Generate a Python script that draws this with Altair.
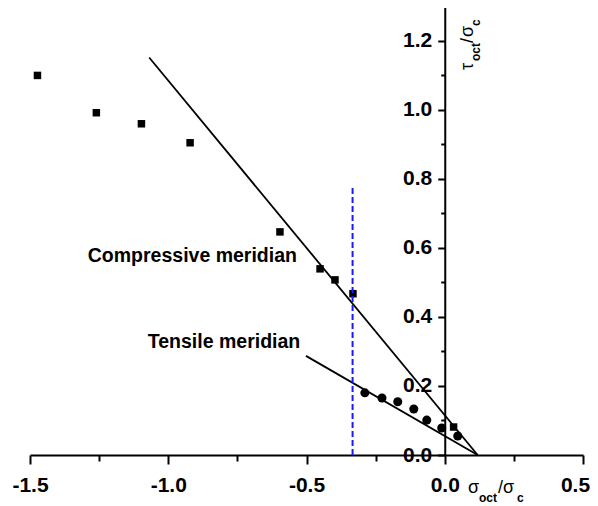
import altair as alt
import pandas as pd

# ---- data ----
# compressive meridian test points (squares)
comp_x = [-1.473, -1.26, -1.097, -0.921, -0.596, -0.451, -0.397, -0.332, 0.032]
comp_y = [1.099, 0.991, 0.959, 0.904, 0.646, 0.539, 0.507, 0.467, 0.081]
# tensile meridian test points (circles)
tens_x = [-0.289, -0.227, -0.170, -0.112, -0.065, -0.011, 0.047]
tens_y = [0.180, 0.165, 0.154, 0.133, 0.101, 0.078, 0.055]
# fitted meridian lines (end points)
line_series = ["Compressive", "Compressive", "Tensile", "Tensile"]
line_x = [-1.069, 0.119, -0.502, 0.119]
line_y = [1.151, 0.0, 0.287, 0.0]
# blue dashed reference line
ref_x = [-1 / 3]
ref_y = [0.0]
ref_y2 = [0.78]
# annotations
ann_text = ["Compressive meridian", "Tensile meridian"]
ann_x = [-1.291, -1.074]
ann_y = [0.559, 0.310]
# ticks
x_major = [-1.5, -1.0, -0.5, 0.0, 0.5]
x_minor = [-1.25, -0.75, -0.25, 0.25]
y_major = [0.0, 0.2, 0.4, 0.6, 0.8, 1.0, 1.2]
y_minor = [0.1, 0.3, 0.5, 0.7, 0.9, 1.1, 1.3]

FONT = "Liberation Sans"
W, H = 553, 449
Y_AXIS_POS = W * 1.5 / 2.0  # pixel position of x = 0

xs = alt.Scale(domain=[-1.5, 0.5], nice=False, zero=False)
ys = alt.Scale(domain=[0, 1.3], nice=False, zero=False)

x_major_axis = alt.Axis(
    values=x_major, orient="bottom", title=None, grid=False,
    domain=True, domainColor="black", domainWidth=2,
    ticks=True, tickSize=9, tickWidth=2, tickColor="black",
    labelFont=FONT, labelFontSize=21, labelFontWeight="bold", labelColor="black",
    labelPadding=10, labelFlush=False, labelOverlap=False,
    labelOffset={"condition": {"test": "datum.value > 0.4", "value": -8}, "value": 0},
    labelExpr="(datum.value < 0 ? '-' : '') + format(abs(datum.value), '.1f')",
)
x_minor_axis = alt.Axis(
    values=x_minor, orient="bottom", title=None, grid=False,
    domain=False, labels=False, ticks=True, tickSize=6, tickWidth=2, tickColor="black",
)
y_major_axis = alt.Axis(
    values=y_major, orient="left", offset=-Y_AXIS_POS, title=None, grid=False,
    domain=True, domainColor="black", domainWidth=2,
    ticks=True, tickSize=7, tickWidth=2, tickColor="black",
    labelFont=FONT, labelFontSize=21, labelFontWeight="bold", labelColor="black",
    labelPadding=6, labelFlush=False, labelOverlap=False,
    labelExpr="format(datum.value, '.1f')",
)
y_minor_axis = alt.Axis(
    values=y_minor, orient="left", offset=-Y_AXIS_POS, title=None, grid=False,
    domain=False, labels=False, ticks=True, tickSize=4, tickWidth=2, tickColor="black",
)

comp_df = pd.DataFrame({"x": comp_x, "y": comp_y})
tens_df = pd.DataFrame({"x": tens_x, "y": tens_y})
line_df = pd.DataFrame({"series": line_series, "x": line_x, "y": line_y})
ref_df = pd.DataFrame({"x": ref_x, "y": ref_y, "y2": ref_y2})
ann_df = pd.DataFrame({"text": ann_text, "x": ann_x, "y": ann_y})

squares = alt.Chart(comp_df).mark_square(size=56, color="black", opacity=1).encode(
    x=alt.X("x:Q", scale=xs, axis=x_major_axis),
    y=alt.Y("y:Q", scale=ys, axis=y_major_axis),
)
circles = alt.Chart(tens_df).mark_circle(size=82, color="black", opacity=1).encode(
    x=alt.X("x:Q", scale=xs, axis=x_minor_axis),
    y=alt.Y("y:Q", scale=ys, axis=y_minor_axis),
)
lines = alt.Chart(line_df).mark_line(color="black", strokeWidth=1.8).encode(
    x=alt.X("x:Q", scale=xs, axis=None),
    y=alt.Y("y:Q", scale=ys, axis=None),
    detail="series:N",
)
ref = alt.Chart(ref_df).mark_rule(color="#1a1aff", strokeWidth=2, strokeDash=[6, 3]).encode(
    x=alt.X("x:Q", scale=xs, axis=None),
    y=alt.Y("y:Q", scale=ys, axis=None),
    y2="y2:Q",
)
ann = alt.Chart(ann_df).mark_text(
    align="left", baseline="alphabetic", font=FONT, fontSize=19.5, fontWeight="bold", color="black"
).encode(
    x=alt.X("x:Q", scale=xs, axis=None),
    y=alt.Y("y:Q", scale=ys, axis=None),
    text="text:N",
)

# axis titles with subscripts, composed of text pieces (pixel positions in plot area)
xt_main = pd.DataFrame({"t": ["σ", "/", "σ"], "px": [438, 468, 473], "py": [487, 487, 487]})
xt_sub = pd.DataFrame({"t": ["oct", "c"], "px": [449, 487], "py": [496, 496]})
yt_main = pd.DataFrame({"t": ["τ", "/", "σ"], "px": [443, 443, 443], "py": [64, 37, 31]})
yt_sub = pd.DataFrame({"t": ["oct", "c"], "px": [450, 450], "py": [55, 20]})


def title_layer(df, size, weight, angle=0):
    kw = dict(align="left", baseline="alphabetic", font=FONT, fontSize=size,
              fontWeight=weight, color="black")
    if angle:
        kw["angle"] = angle
    return alt.Chart(df).mark_text(**kw).encode(
        x=alt.X("px:Q", scale=None, axis=None),
        y=alt.Y("py:Q", scale=None, axis=None),
        text="t:N",
    )


titles = [
    title_layer(xt_main, 18, "normal"),
    title_layer(xt_sub, 12, "bold"),
    title_layer(yt_main, 18, "normal", 270),
    title_layer(yt_sub, 12, "bold", 270),
]

chart = alt.layer(squares, circles, lines, ref, ann, *titles).resolve_axis(
    x="independent", y="independent"
).properties(
    width=W, height=H,
    padding={"left": 22, "top": -2, "right": 7, "bottom": 50},
    autosize=alt.AutoSizeParams(type="none"),
).configure_view(stroke=None)

chart.save("out.html", embed_options={"renderer": "svg", "actions": False})
